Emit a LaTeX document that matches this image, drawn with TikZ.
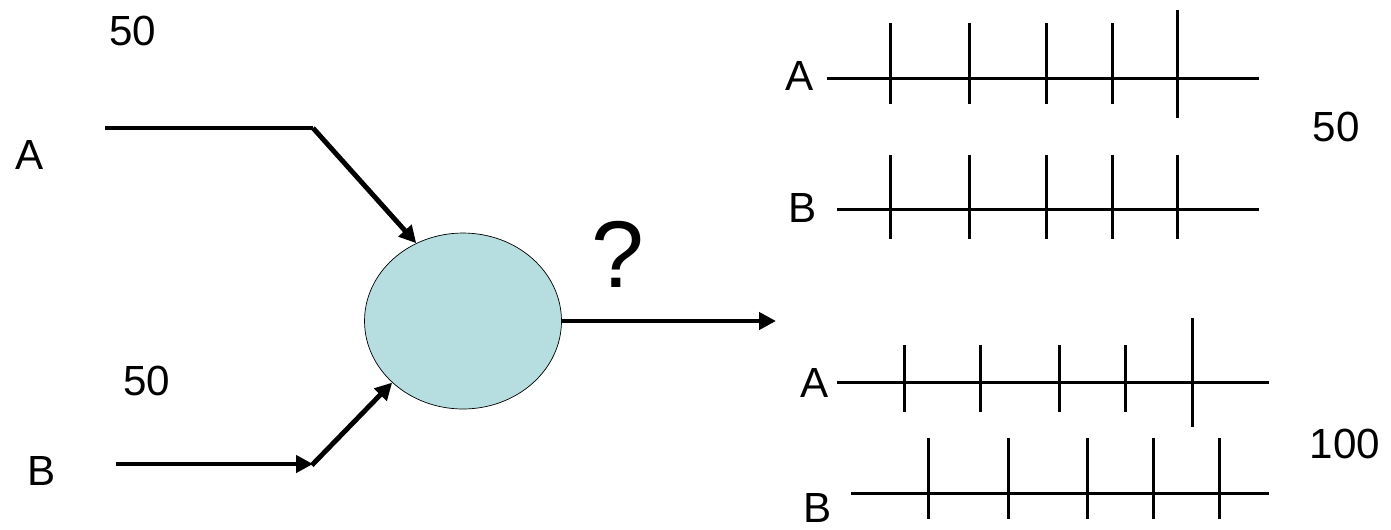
\documentclass[tikz,border=0pt]{standalone}
\usepackage{fontspec}
\setmainfont{Liberation Sans}
\usetikzlibrary{arrows.meta,positioning,shapes.geometric}
\definecolor{cellblue}{RGB}{182,221,224}
\begin{document}
\begin{tikzpicture}[x=0.02cm,y=-0.02cm,every node/.style={font=\fontsize{24}{28}\selectfont,inner sep=0pt},
  arr/.style={line width=2.8pt,-{Triangle[length=0.34cm,width=0.34cm]}},
  train/.style={line width=1.7pt}]
\useasboundingbox (0,0) rectangle (1391,529);
% input side
\node (rateA) at (133,31) {50};
\node (labA) at (30,155) {A};
\node (rateB) at (147,381) {50};
\node (labB) at (42,471) {B};
\node[ellipse,draw,thin,fill=cellblue,minimum width=3.94cm,minimum height=3.52cm] (cell) at (463,321) {};
\coordinate (a0) at (105,128);
\coordinate (a1) at (313,128);
\coordinate (b0) at (116,464);
\coordinate (b1) at (313,464);
\coordinate (out) at (776,321);
\draw[line width=2.8pt,line join=round] (a0)--(a1);
\draw[arr] (a1)--(cell.121);
\draw[arr] (b0)--(b1);
\draw[arr,shorten <=-1pt] (b1)--(cell.221);
\draw[arr] (cell.east)--(out);
\node[font=\fontsize{54}{60}\selectfont] (ques) at (618,254) {?};
% spike trains
\node (tA1) at (800,76) {A};
\node (tB1) at (803,208) {B};
\node (tA2) at (815,383) {A};
\node (tB2) at (818,508) {B};
\node (rate1) at (1336,127) {50};
\node (rate2) at (1345,444) {100};
\draw[train] (827,78)--(1259,78);
\foreach \x in {890,969,1046,1112}
  \draw[train] (\x,23)--(\x,104);
\draw[train] (1177,10)--(1177,118);
\draw[train] (837,209)--(1259,209);
\foreach \x in {890,969,1046,1112,1177}
  \draw[train] (\x,155)--(\x,239);
\draw[train] (837,382)--(1269,382);
\foreach \x in {904,980,1059,1125}
  \draw[train] (\x,345)--(\x,412);
\draw[train] (1192,318)--(1192,427);
\draw[train] (851,493)--(1269,493);
\foreach \x in {928,1008,1087,1153,1219}
  \draw[train] (\x,438)--(\x,519);
\end{tikzpicture}
\end{document}
